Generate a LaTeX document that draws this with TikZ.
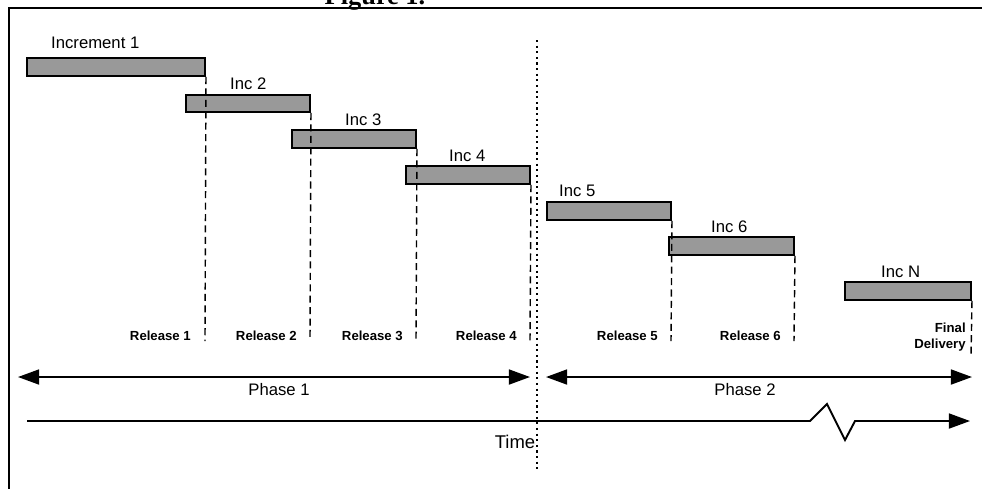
\documentclass[tikz,border=0pt]{standalone}
\usepackage{fontspec}
\setmainfont{Liberation Sans}
\newfontfamily\titlefont{Liberation Serif}
\usetikzlibrary{arrows.meta,fit}

\begin{document}
\begin{tikzpicture}[x=0.02cm, y=-0.02cm,
      bar/.style = {draw, line width=1.1pt, fill=black!40, inner sep=0pt},
      inc/.style = {anchor=base west, font=\fontsize{9.5}{11}\selectfont},
      rel/.style = {anchor=base east, font=\fontsize{7.5}{9}\selectfont\bfseries},
      release/.style = {line width=0.8pt, dash pattern=on 4pt off 2.5pt},
      span/.style = {line width=1.1pt, {Triangle[length=12pt,width=8.5pt]}-{Triangle[length=12pt,width=8.5pt]}},
      timeline/.style = {line width=1.1pt, -{Triangle[length=12pt,width=8.5pt]}},
      phase/.style = {anchor=base, font=\fontsize{9.5}{11}\selectfont}]
    \useasboundingbox (0,0) rectangle (982,488);
    \clip (0,0) rectangle (982,488);

    % frame and title
    \node[anchor=base, font=\titlefont\bfseries\fontsize{15}{17}\selectfont] (title) at (375,4) {Figure 1.};
    \draw[line width=1.1pt] (9,500) -- (9,8) -- (995,8);

    % increments
    \node[bar, fit={(27,58) (205,76)}] (b1) {};
    \node[bar, fit={(186,95) (310,112)}] (b2) {};
    \node[bar, fit={(292,130) (416,148)}] (b3) {};
    \node[bar, fit={(406,166) (530,184)}] (b4) {};
    \node[bar, fit={(547,202) (671,220)}] (b5) {};
    \node[bar, fit={(669,237) (794,255)}] (b6) {};
    \node[bar, fit={(845,282) (971,300)}] (bN) {};

    \node[inc] (l1) at (45,48) {Increment 1};
    \node[inc] (l2) at (224,89) {Inc 2};
    \node[inc] (l3) at (339,125) {Inc 3};
    \node[inc] (l4) at (443,161) {Inc 4};
    \node[inc] (l5) at (553,196) {Inc 5};
    \node[inc] (l6) at (705,232) {Inc 6};
    \node[inc] (lN) at (875,277) {Inc N};

    % releases
    \coordinate (r1) at (205,341);
    \coordinate (r2) at (310,341);
    \coordinate (r3) at (416,341);
    \coordinate (r4) at (530,341);
    \coordinate (r5) at (671,341);
    \coordinate (r6) at (794,341);
    \coordinate (rN) at (971,357);
    \draw[release] (b1.south east) -- (r1);
    \draw[release] (b2.south east) -- (r2);
    \draw[release] (b3.south east) -- (r3);
    \draw[release] (b4.south east) -- (r4);
    \draw[release] (b5.south east) -- (r5);
    \draw[release] (b6.south east) -- (r6);
    \draw[release] (bN.south east) -- (rN);

    \node[rel] (t1) at (197,340) {Release 1};
    \node[rel] (t2) at (303,340) {Release 2};
    \node[rel] (t3) at (409,340) {Release 3};
    \node[rel] (t4) at (523,340) {Release 4};
    \node[rel] (t5) at (664,340) {Release 5};
    \node[rel] (t6) at (787,340) {Release 6};
    \node[rel, align=right, anchor=east, inner sep=0pt] (tN) at (966,337) {Final\\Delivery};

    % phase split
    \draw[line width=0.9pt, dash pattern=on 1.2pt off 2pt] (537,40) -- (537,472);

    % phases
    \coordinate (p1a) at (18,377);
    \coordinate (p1b) at (530,377);
    \coordinate (p2a) at (546,377);
    \coordinate (p2b) at (972,377);
    \draw[span] (p1a) -- (p1b);
    \draw[span] (p2a) -- (p2b);
    \node[phase] (ph1) at (279,395) {Phase 1};
    \node[phase] (ph2) at (745,395) {Phase 2};

    % time axis
    \coordinate (ta) at (27,421);
    \coordinate (tb) at (970,421);
    \draw[timeline] (ta) -- (810,421) -- (827,404) -- (845,440) -- (855,421) -- (tb);
    \node[anchor=base, font=\fontsize{10.5}{12}\selectfont] (time) at (515,448) {Time};
  \end{tikzpicture}
\end{document}
